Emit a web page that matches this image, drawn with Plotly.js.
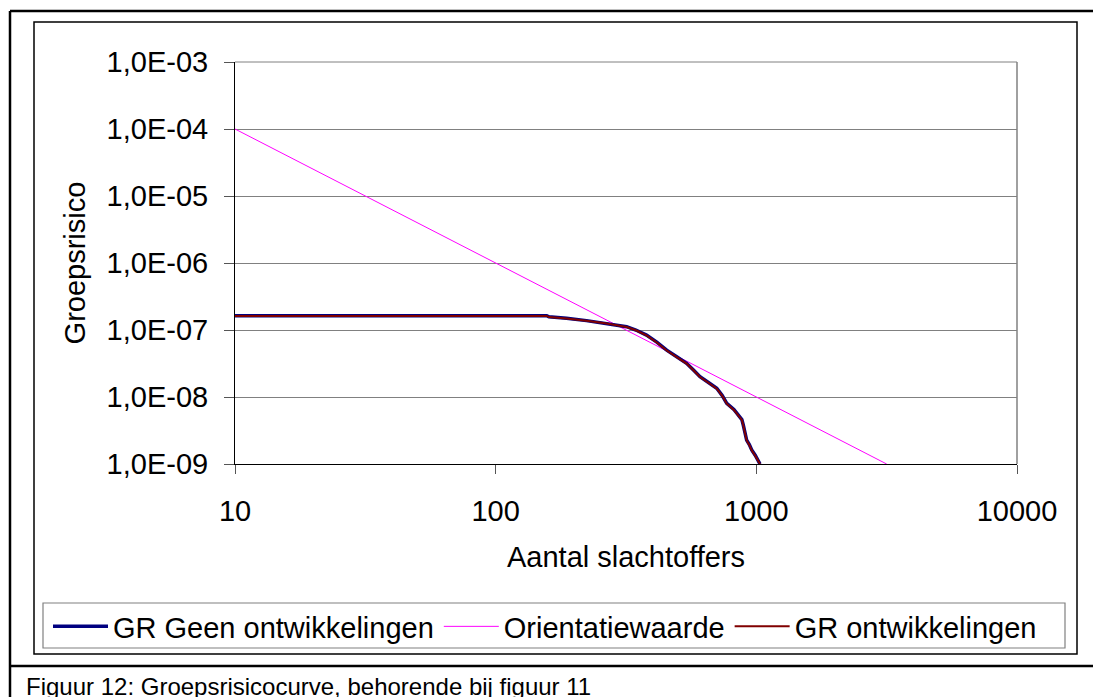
<!DOCTYPE html>
<html>
<head>
<meta charset="utf-8">
<script src="https://cdn.plot.ly/plotly-3.0.1.min.js"></script>
<style>
  html, body { margin: 0; padding: 0; background: #fff; }
  #chart { width: 1093px; height: 697px; }
</style>
</head>
<body>
<div id="chart"></div>
<script>
// ---- data ----
const grGeenN = [10, 157, 160, 187, 223, 267, 318, 345, 379, 415, 453, 495, 540, 575, 608, 655, 705, 740, 770, 820, 865, 880, 891, 905, 918, 940, 960, 990, 1017, 1033];
const grGeenF = [1.63e-7, 1.63e-7, 1.57e-7, 1.50e-7, 1.38e-7, 1.26e-7, 1.12e-7, 1.0e-7, 8.4e-8, 6.6e-8, 5.0e-8, 4.0e-8, 3.18e-8, 2.5e-8, 2.01e-8, 1.65e-8, 1.35e-8, 1.05e-8, 8.05e-9, 6.5e-9, 5.08e-9, 4.6e-9, 3.82e-9, 3.0e-9, 2.28e-9, 1.95e-9, 1.62e-9, 1.35e-9, 1.15e-9, 1.0e-9];
const grOntwN = [10, 157, 160, 187, 223, 267, 318, 345, 379, 415, 453, 495, 540, 575, 608, 655, 705, 740, 770, 820, 865, 880, 891, 905, 918, 940, 960, 990, 1017, 1033];
const grOntwF = [1.62e-7, 1.62e-7, 1.56e-7, 1.49e-7, 1.37e-7, 1.25e-7, 1.11e-7, 9.9e-8, 8.3e-8, 6.5e-8, 4.95e-8, 3.95e-8, 3.15e-8, 2.48e-8, 1.99e-8, 1.63e-8, 1.33e-8, 1.04e-8, 7.95e-9, 6.4e-9, 5.0e-9, 4.55e-9, 3.78e-9, 2.95e-9, 2.25e-9, 1.92e-9, 1.6e-9, 1.33e-9, 1.13e-9, 1.0e-9];
const orientN = [10, 100, 1000, 3162];
const orientF = [1e-4, 1e-6, 1e-8, 1e-9];

const xTickVals = [10, 100, 1000, 10000];
const xTickText = ['10', '100', '1000', '10000'];
const yTickVals = [1e-9, 1e-8, 1e-7, 1e-6, 1e-5, 1e-4, 1e-3];
const yTickText = ['1,0E-09', '1,0E-08', '1,0E-07', '1,0E-06', '1,0E-05', '1,0E-04', '1,0E-03'];

const seriesNames = ['GR Geen ontwikkelingen', 'Orientatiewaarde', 'GR ontwikkelingen'];
const xTitle = 'Aantal slachtoffers';
const yTitle = 'Groepsrisico';
const caption = 'Figuur 12: Groepsrisicocurve, behorende bij figuur 11';

// ---- layout helpers (pixel -> paper) ----
const W = 1093, H = 697;
const PL = 235, PR = 1017, PT = 62, PB = 464;
const px = x => (x - PL) / (PR - PL);
const py = y => (PB - y) / (PB - PT);

const FONT = 'Liberation Sans, Arial, sans-serif';

const traces = [
  { x: orientN, y: orientF, name: seriesNames[1], mode: 'lines', legendrank: 2,
    line: { color: '#FF00FF', width: 1 } },
  { x: grGeenN, y: grGeenF, name: seriesNames[0], mode: 'lines', legendrank: 1,
    line: { color: '#000080', width: 3.5 } },
  { x: grOntwN, y: grOntwF, name: seriesNames[2], mode: 'lines', legendrank: 3,
    line: { color: '#800000', width: 2 } }
];

const shapes = [
  // outer frame lines
  { type: 'line', xref: 'paper', yref: 'paper', x0: px(10), x1: px(1093), y0: py(11), y1: py(11), line: { color: '#000', width: 2.5 } },
  { type: 'line', xref: 'paper', yref: 'paper', x0: px(10), x1: px(10), y0: py(11), y1: py(697), line: { color: '#000', width: 2.5 } },
  { type: 'line', xref: 'paper', yref: 'paper', x0: px(10), x1: px(1093), y0: py(666), y1: py(666), line: { color: '#000', width: 2.5 } },
  // chart area
  { type: 'rect', xref: 'paper', yref: 'paper', x0: px(34), x1: px(1077), y0: py(22), y1: py(654), line: { color: '#000', width: 1.5 }, layer: 'below' },
  // plot area border (top / right)
  { type: 'line', xref: 'paper', yref: 'paper', x0: 0, x1: 1, y0: 1, y1: 1, line: { color: '#808080', width: 1 }, layer: 'below' },
  { type: 'line', xref: 'paper', yref: 'paper', x0: 1, x1: 1, y0: 0, y1: 1, line: { color: '#808080', width: 1.5 }, layer: 'below' },
  // legend box
  { type: 'rect', xref: 'paper', yref: 'paper', x0: px(43), x1: px(1065), y0: py(603), y1: py(648), line: { color: '#808080', width: 1.2 }, layer: 'below' }
];

const layout = {
  width: W, height: H,
  margin: { l: PL, r: W - PR, t: PT, b: H - PB, pad: 0 },
  paper_bgcolor: '#fff', plot_bgcolor: '#fff',
  font: { family: FONT, color: '#000', size: 29 },
  showlegend: true,
  legend: {
    orientation: 'h', x: px(48), y: py(601), xanchor: 'left', yanchor: 'top',
    bgcolor: 'rgba(0,0,0,0)', borderwidth: 0, font: { family: FONT, size: 29, color: '#000' },
    itemwidth: 55, tracegroupgap: 0
  },
  xaxis: {
    type: 'log', range: [1, 4], tickvals: xTickVals, ticktext: xTickText,
    showgrid: false, zeroline: false, showline: true, linecolor: '#000', linewidth: 1,
    ticks: 'outside', ticklen: 9, tickcolor: '#555', tickwidth: 1,
    tickfont: { family: FONT, size: 29, color: '#000' }, ticklabelstandoff: 12,
    automargin: false,
    title: { text: xTitle, font: { family: FONT, size: 29, color: '#000' }, standoff: 20 }
  },
  yaxis: {
    type: 'log', range: [-9, -3], tickvals: yTickVals, ticktext: yTickText,
    showgrid: true, gridcolor: '#808080', gridwidth: 1,
    zeroline: false, showline: true, linecolor: '#000', linewidth: 1,
    ticks: 'outside', ticklen: 10, tickcolor: '#555', tickwidth: 1,
    tickfont: { family: FONT, size: 29, color: '#000' }, ticklabelstandoff: 10,
    automargin: false,
    title: { text: yTitle, font: { family: FONT, size: 29, color: '#000' }, standoff: 12 }
  },
  shapes: shapes,
  annotations: [
    { text: caption, xref: 'paper', yref: 'paper', x: px(24), y: py(671), xanchor: 'left', yanchor: 'top',
      showarrow: false, font: { family: FONT, size: 24, color: '#000' } }
  ]
};

Plotly.newPlot('chart', traces, layout, { displayModeBar: false, staticPlot: true });
</script>
</body>
</html>
